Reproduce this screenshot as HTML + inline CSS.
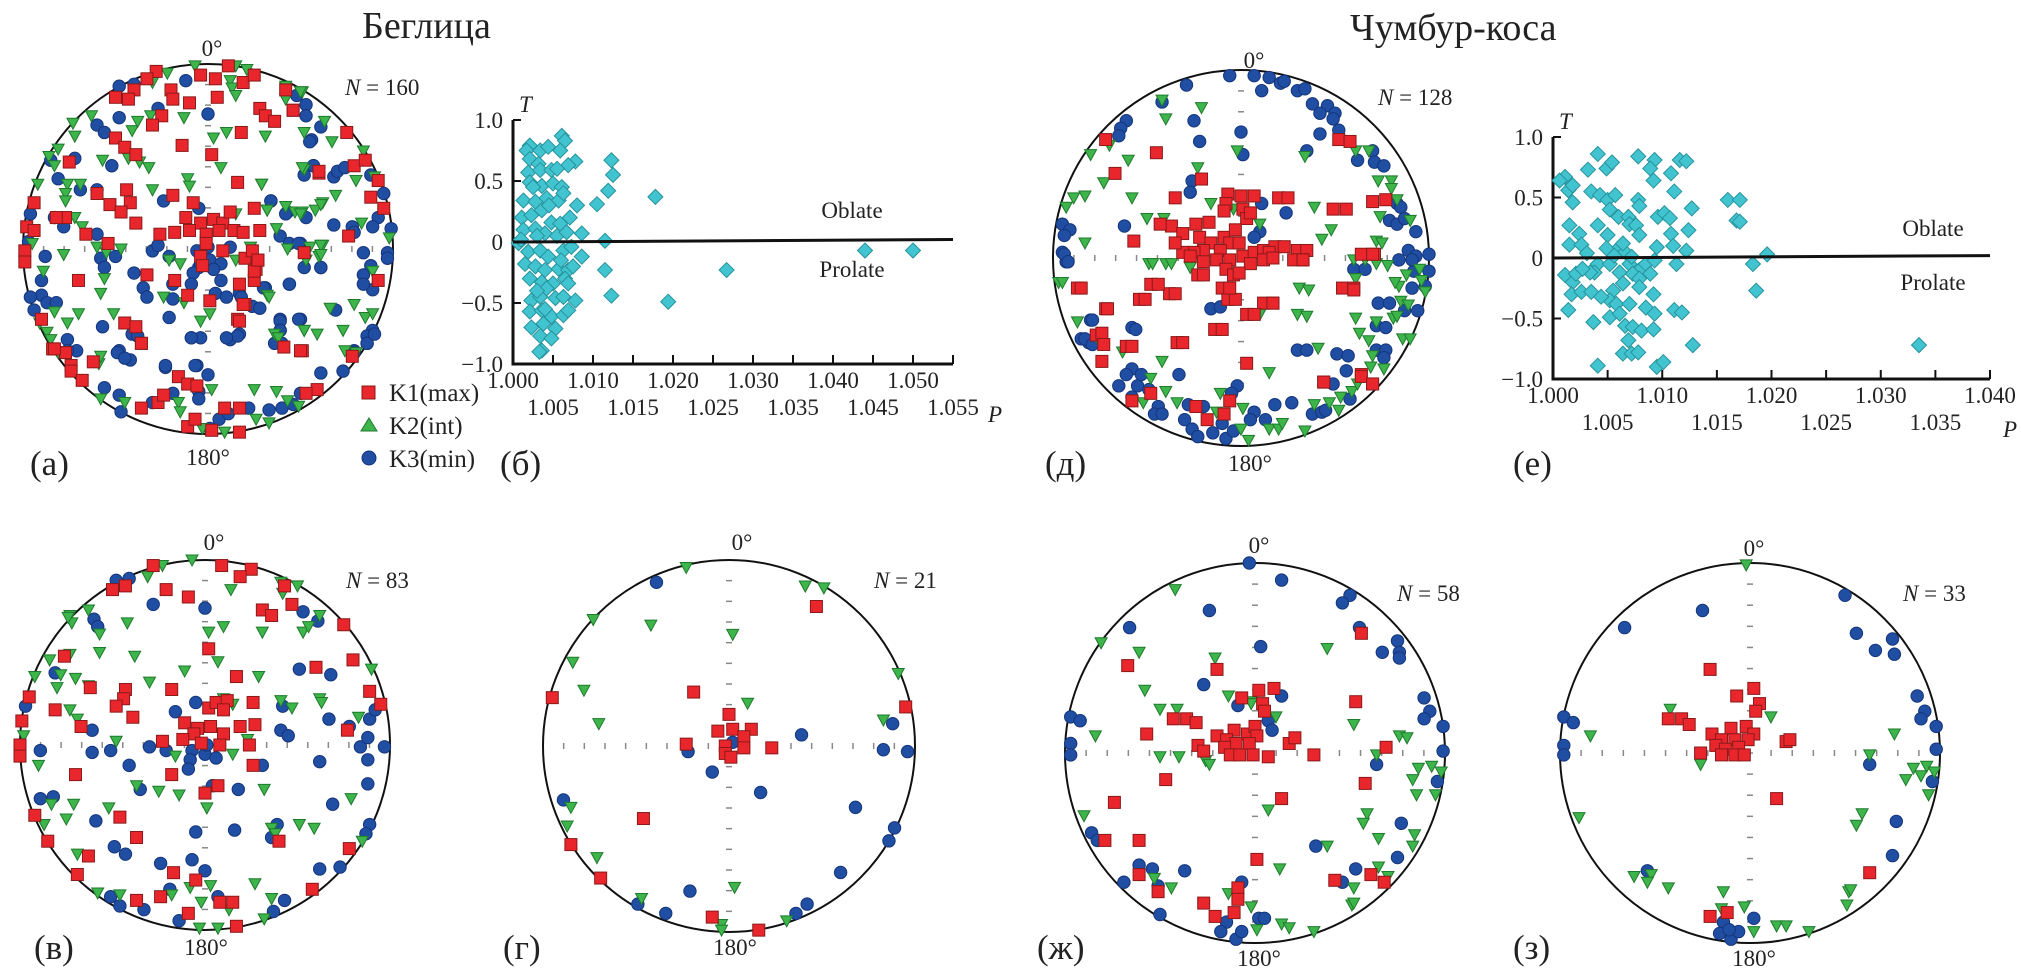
<!DOCTYPE html>
<html><head><meta charset="utf-8">
<style>
html,body{margin:0;padding:0;background:#fff;}
svg{display:block;font-family:"Liberation Serif","Noto Serif CJK SC",serif;}
.t{font-family:"Liberation Serif","Noto Serif CJK SC",serif;font-size:23px;fill:#222;}
.pl{font-family:"Liberation Serif","Noto Serif CJK SC",serif;font-size:35px;fill:#222;}
.ti{font-family:"Liberation Serif","Noto Serif CJK SC",serif;font-size:38px;fill:#222;}
.lg{font-family:"Liberation Serif","Noto Serif CJK SC",serif;font-size:25px;fill:#222;}
</style></head>
<body>
<svg id="fig" width="2021" height="979" viewBox="0 0 2021 979" xmlns="http://www.w3.org/2000/svg" font-family="Liberation Serif, serif">
<text class="ti" x="362" y="38">Беглица</text>
<text class="ti" x="1350" y="40">Чумбур-коса</text>
<g id="nets"></g>
<g id="plotB"></g>
<g id="plotE"></g>
<text class="t" x="212" y="56" text-anchor="middle">0°</text>
<text class="t" x="208" y="465" text-anchor="middle">180°</text>
<text class="t" x="345" y="95"><tspan font-style="italic">N</tspan> = 160</text>
<text class="pl" x="30" y="475">(а)</text>
<text class="pl" x="500" y="475">(б)</text>
<text class="t" x="1254" y="68" text-anchor="middle">0°</text>
<text class="t" x="1250" y="471" text-anchor="middle">180°</text>
<text class="t" x="1378" y="105"><tspan font-style="italic">N</tspan> = 128</text>
<text class="pl" x="1045" y="475">(д)</text>
<text class="pl" x="1513" y="475">(е)</text>
<text class="t" x="214" y="550" text-anchor="middle">0°</text>
<text class="t" x="206" y="955" text-anchor="middle">180°</text>
<text class="t" x="346" y="588"><tspan font-style="italic">N</tspan> = 83</text>
<text class="pl" x="34" y="959">(в)</text>
<text class="t" x="742" y="550" text-anchor="middle">0°</text>
<text class="t" x="735" y="955" text-anchor="middle">180°</text>
<text class="t" x="874" y="588"><tspan font-style="italic">N</tspan> = 21</text>
<text class="pl" x="503" y="959">(г)</text>
<text class="t" x="1259" y="553" text-anchor="middle">0°</text>
<text class="t" x="1259" y="966" text-anchor="middle">180°</text>
<text class="t" x="1397" y="601"><tspan font-style="italic">N</tspan> = 58</text>
<text class="pl" x="1037" y="959">(ж)</text>
<text class="t" x="1754" y="556" text-anchor="middle">0°</text>
<text class="t" x="1754" y="966" text-anchor="middle">180°</text>
<text class="t" x="1903" y="601"><tspan font-style="italic">N</tspan> = 33</text>
<text class="pl" x="1513" y="959">(з)</text>
<g>
<rect x="362" y="386" width="13" height="13" fill="#e8262c" stroke="#8b1a1a" stroke-width="1"/>
<text class="lg" x="389" y="401">K1(max)</text>
<polygon points="369,418 377,431 361,431" fill="#3db54a" stroke="#1f7a2e" stroke-width="1"/>
<text class="lg" x="389" y="434">K2(int)</text>
<circle cx="369" cy="458" r="7" fill="#1f4ea3" stroke="#16357a" stroke-width="1"/>
<text class="lg" x="389" y="467">K3(min)</text>
</g>
</svg>
<script>
const aK1 = [[-.28,.96],[-.33,.92],[-.04,.94],[.04,.92],[.11,.99],[.19,.90],[.25,.94],[-.40,.86],[-.50,.82],[-.43,.81],[-.20,.86],[-.19,.81],[-.10,.79],[.05,.82],[.28,.76],[.31,.72],[.36,.69],[.46,.75],[-.25,.72],[-.30,.67],[.18,.63],[-.14,.56],[-.50,.60],[-.45,.55],[-.39,.51],[.02,.51],[-.75,.47],[.60,.41],[.16,.36],[-.94,.25],[-.60,.30],[-.44,.32],[-.42,.25],[-.53,.24],[-.47,.20],[-.39,.14],[-.19,.29],[-.08,.25],[.25,.22],[-.12,.17],[-.04,.14],[.03,.16],[.08,.14],[.12,.20],[.06,.10],[-.01,.08],[-.10,.10],[-.18,.09],[-.26,.08],[.14,.10],[.19,.09],[.28,.10],[-.01,.03],[.08,-.01],[-.04,-.04],[-.03,-.09],[.20,-.05],[.27,-.06],[.24,-.01],[.26,-.11],[.25,-.17],[-.98,.12],[-.94,.10],[-.77,.17],[-.82,.17],[-.66,.08],[-.54,.03],[-.99,-.01],[-.99,-.07],[-.70,-.17],[-.33,-.14],[-.18,-.17],[.17,-.19],[-.11,-.25],[.01,-.28],[.20,-.30],[.16,-.38],[-.45,-.40],[-.39,-.42],[-.36,-.51],[.51,-.55],[.41,-.53],[-.84,-.54],[-.77,-.56],[-.74,-.63],[-.62,-.61],[-.90,-.38],[.42,.86],[.46,.75],[.75,.63],[.79,.45],[.85,.48],[.60,.42],[.88,.28],[.95,.22],[.92,.37],[.76,.07],[.52,-.02],[.92,-.17],[.25,-.12],[.27,-.06],[.19,-.30],[.17,-.39],[.78,-.58],[-.36,-.51],[.50,-.55],[-.83,-.54],[-.74,-.66],[-.68,-.71],[-.16,-.69],[-.11,-.73],[-.06,-.74],[-.36,-.86],[-.27,-.83],[-.24,-.79],[-.11,-.96],[-.07,-.92],[.02,-.98],[.09,-.86],[.17,-.86],[.17,-.99],[.59,-.76],[.53,-.78]];
const aK2 = [[-.07,.99],[-.22,.95],[-.30,.90],[.12,.91],[.15,.99],[.21,.97],[.13,.87],[.15,.83],[.42,.87],[.42,.81],[.51,.85],[-.63,.72],[-.73,.68],[-.72,.61],[-.81,.54],[-.86,.50],[-.83,.45],[-.92,.35],[-.76,.35],[-.69,.35],[-.77,.30],[-.77,.26],[-.72,.17],[-.68,.12],[-.95,.03],[-.78,-.03],[-.60,.01],[-.55,-.02],[-.47,0],[-.57,.48],[-.43,.49],[-.37,.47],[-.32,.44],[-.41,.64],[-.38,.69],[-.31,.72],[-.13,.71],[.03,.60],[.10,.63],[.31,.61],[.07,.44],[-.11,.38],[-.10,.34],[-.30,.32],[.29,.35],[.15,.19],[.32,.21],[.37,.11],[.42,.23],[.47,.20],[.51,.20],[.58,.21],[.62,.25],[.52,.43],[.62,.02],[.43,0],[.53,-.06],[.60,-.04],[.23,.01],[.15,-.06],[-.15,-.08],[-.21,-.06],[-.56,-.16],[-.89,-.12],[-.58,-.24],[-.24,-.26],[-.13,-.29],[.01,-.35],[-.04,-.39],[-.51,-.35],[-.70,-.35],[-.83,-.34],[-.76,-.40],[-.91,-.40],[-.87,-.45],[-.85,-.49],[.36,-.46],[.38,-.48],[.52,-.44],[.59,-.46],[.32,-.25],[.42,.88],[.50,.85],[.63,.69],[.52,.63],[.67,.58],[.84,.53],[.51,.44],[.80,.37],[.90,.39],[.29,.35],[.69,.29],[.32,.21],[.50,.19],[.61,.24],[.83,.14],[.98,.06],[.55,.01],[.61,.02],[.61,-.03],[.89,-.12],[.33,-.26],[.79,-.30],[.66,-.32],[.85,-.37],[.89,-.35],[.52,-.44],[.73,-.44],[.74,-.55],[-.81,-.56],[-.59,-.62],[-.58,-.81],[-.45,-.83],[-.16,-.83],[-.15,-.88],[-.03,-.97],[.02,-.76],[.09,-.99],[.26,-.92],[.33,-.94],[.25,-.76],[.37,-.77],[.43,-.82],[.49,-.85],[-.58,-.58],[.80,-.56]];
const aK3 = [[-.12,.91],[-.40,.89],[-.48,.88],[0,.73],[-.27,.76],[-.48,.71],[-.60,.67],[-.56,.63],[-.72,.49],[-.85,.48],[-.52,.45],[-.81,.38],[-.69,.32],[-.60,.32],[-.24,.26],[-.05,.22],[-.83,.17],[-.78,.12],[-.96,.19],[-.97,.04],[-.60,.08],[-.88,-.04],[-.58,-.05],[-.56,-.10],[-.50,-.04],[-.30,-.01],[-.27,.02],[-.21,-.04],[-.06,-.01],[0,.01],[.01,-.06],[.07,-.08],[.12,.01],[-.05,-.10],[-.08,-.13],[-.09,-.19],[-.04,-.08],[.03,-.11],[-.19,-.19],[-.40,-.13],[-.35,-.21],[-.33,-.26],[-.19,-.27],[.07,-.17],[.04,-.24],[.10,-.26],[.17,-.24],[.31,-.21],[.44,-.19],[.24,-.31],[-.90,-.17],[-.90,-.25],[-.96,-.26],[-.94,-.33],[-.87,-.29],[-.82,-.29],[-.57,-.42],[-.41,-.46],[-.21,-.37],[-.09,-.48],[-.04,-.48],[.12,-.49],[.17,-.46],[.39,-.38],[.39,-.44],[.50,-.38],[.40,-.51],[-.76,-.49],[-.71,-.55],[-.48,-.55],[-.42,-.60],[-.23,-.64],[-.06,-.63],[.34,.26],[.43,.20],[.53,.17],[.50,.03],[.39,.07],[.52,-.10],[.61,-.10],[.57,.45],[.52,.40],[.48,.83],[.53,.78],[.53,.72],[.61,.66],[.56,.59],[.55,.58],[.57,.45],[.68,.39],[.70,.42],[.74,.44],[.88,.40],[.95,.30],[.34,.26],[.42,.19],[.99,.11],[.92,.17],[.89,.12],[.68,.13],[.78,.12],[.79,.09],[.84,-.02],[.97,-.02],[.97,-.05],[.44,.03],[.49,.03],[.61,-.10],[.88,-.09],[.84,-.14],[.89,-.22],[.84,-.19],[.44,-.19],[.30,-.21],[.18,-.26],[.28,-.32],[.69,-.33],[.39,-.39],[.39,-.44],[.49,-.38],[.36,-.51],[.89,-.44],[.86,-.47],[.86,-.51],[.79,-.55],[.16,-.47],[-.38,-.47],[-.09,-.48],[.10,-.48],[-.49,-.56],[-.45,-.59],[-.76,-.55],[-.23,-.63],[-.07,-.63],[0,-.68],[-.56,-.75],[-.48,-.79],[-.47,-.88],[-.19,-.78],[-.05,-.77],[-.05,-.81],[.06,-.92],[.11,-.89],[.22,-.86],[.33,-.87],[.40,-.86],[.46,-.84],[.50,-.78],[.61,-.67],[.73,-.66],[.79,-.56],[.86,-.51],[.90,-.46],[.01,-.97],[-.30,-.83]];

const dK1 = [[-.07,.34],[-.08,.29],[-.09,.25],[0,.33],[.07,.33],[.20,.32],[.01,.26],[.03,.21],[.05,.24],[-.17,.19],[-.24,.18],[-.37,.17],[-.43,.18],[-.31,.13],[-.22,.11],[-.16,.08],[-.09,.11],[-.06,.08],[-.01,.08],[-.11,.04],[-.20,.04],[-.25,.03],[-.31,.03],[-.35,.08],[-.27,.01],[-.20,-.02],[-.13,-.01],[-.06,-.01],[.01,.01],[.07,.03],[.12,.04],[.18,.06],[.15,.03],[-.03,.15],[.05,-.03],[.12,-.01],[-.23,-.09],[-.08,-.06],[-.04,-.09],[.49,.26],[.70,.30],[.30,.04],[.28,-.01],[.64,.02],[.52,.63],[-.57,.09],[-.87,-.16],[-.48,-.14],[-.38,-.19],[-.54,-.22],[-.10,-.16],[-.07,-.22],[.12,-.24],[.54,-.16],[.03,-.30],[-.72,-.27],[-.14,-.38],[-.61,-.47],[-.77,-.41],[-.34,-.45],[-.72,.63],[-.45,.56],[-.67,.45],[-.21,.42],[-.35,.32],[.58,.62],[.25,.32],[.77,.31],[.56,.26],[.23,.06],[.35,.04],[.17,0],[.33,-.01],[.71,.02],[.60,-.16],[.17,-.24],[.44,-.66],[.64,-.62],[.70,-.67],[-.85,-.16],[-.44,-.14],[-.35,-.19],[-.51,-.22],[-.71,-.27],[-.74,-.40],[-.73,-.46],[-.58,-.47],[-.74,-.55],[-.31,-.45],[-.10,-.38],[-.03,-.22],[-.06,-.16],[.07,-.30],[.17,-.24],[.03,-.56],[.60,-.17],[.70,.02],[.33,-.01],[.44,-.66],[.64,-.63],[.70,-.67],[-.06,-.76],[-.09,-.83],[-.18,-.86],[-.24,-.79],[-.48,-.72],[-.58,-.76],[-.20,-.09],[-.01,-.08]];
const dK2 = [[-.42,.84],[-.21,.80],[-.40,.74],[-.80,.55],[-.70,.60],[-.60,.52],[-.73,.40],[-.83,.33],[-.89,.32],[-.93,.27],[-.58,.32],[-.50,.21],[-.41,.21],[-.83,.08],[-.49,-.03],[-.40,-.03],[-.97,-.13],[-.27,-.05],[-.23,.48],[-.02,.57],[-.16,.29],[-.04,.26],[.10,.18],[.34,.54],[.39,.27],[.48,.15],[.43,.10],[.61,.57],[.68,.57],[.73,.41],[.80,.41],[.80,.37],[.83,.31],[.74,.22],[.90,.20],[.72,.09],[.75,.08],[.60,-.01],[.72,-.03],[.31,-.16],[.30,-.30],[.61,-.11],[-.95,-.13],[-.87,-.34],[-.63,-.50],[-.77,-.42],[-.47,-.03],[-.37,-.03],[-.42,-.55],[-.40,-.71],[-.52,-.77],[-.34,-.77],[-.48,-.64],[-.11,-.72],[-.13,-.82],[.01,-.80],[.04,-.97],[0,-.91],[.15,-.91],[.20,-.91],[.22,-.88],[.34,-.92],[.15,-.61],[.10,-.30],[.35,-.31],[.36,-.17],[.41,-.48],[.39,-.78],[.47,-.77],[.53,-.74],[.59,-.71],[.62,-.67],[.63,-.40],[.68,-.44],[.72,-.34],[.61,-.32],[.81,-.32],[.83,-.31],[.86,-.43],[.90,-.43],[.70,-.52],[.76,-.59],[.69,-.58],[.84,-.15],[.82,-.13],[.88,-.09],[.85,-.23],[.89,-.25],[.96,-.12],[.95,-.06],[.98,-.18],[.78,-.04],[.66,-.01],[.52,-.81]];
const dK3 = [[-.29,.92],[-.06,.97],[.07,.97],[.15,.96],[.21,.93],[.23,.94],[.30,.89],[.34,.90],[.11,.89],[.38,.82],[.46,.81],[.42,.77],[.50,.77],[.49,.74],[.52,.68],[.42,.66],[-.25,.73],[0,.67],[-.22,.62],[.01,.55],[-.42,.83],[-.61,.73],[-.64,.69],[-.65,.65],[-.26,.41],[-.27,.35],[.35,.57],[.62,.52],[.70,.57],[.71,.51],[.76,.49],[.83,.29],[.85,.27],[.79,.20],[.83,.18],[.87,.21],[.93,.14],[.11,.29],[.24,.24],[.10,.14],[.07,.11],[-.62,.17],[-.95,.18],[-.91,.15],[-.94,.12],[-.95,.03],[-.93,-.02],[.89,.04],[.93,.01],[.84,-.01],[.92,-.07],[.60,-.06],[.91,-.16],[.87,-.28],[.73,-.24],[.72,-.36],[-.16,-.27],[-.80,-.33],[-.58,-.37],[-.85,-.43],[-.81,-.45],[.30,-.49],[.51,-.51],[.72,-.49],[-.94,.02],[-.92,-.02],[-.79,-.33],[-.83,-.43],[-.79,-.46],[-.56,-.38],[-.58,-.59],[-.61,-.62],[-.65,-.68],[-.55,-.68],[-.58,-.74],[-.53,-.62],[-.49,-.70],[-.44,-.79],[-.46,-.83],[-.42,-.83],[-.33,-.62],[-.30,-.86],[-.26,-.91],[-.23,-.95],[-.15,-.93],[-.10,-.88],[-.08,-.96],[-.04,-.92],[-.02,-.68],[-.05,-.72],[-.11,-.26],[-.28,-.78],[-.20,-.79],[.07,-.82],[.05,-.86],[.13,-.86],[.18,-.78],[.27,-.77],[.35,-.49],[.38,-.83],[.43,-.82],[.45,-.81],[.49,-.67],[.57,-.52],[.56,-.60],[.58,-.75],[.77,-.49],[.77,-.37],[.79,-.24],[.94,-.28],[.98,-.15],[.91,-.01],[.66,-.06],[1.0,-.07],[1.0,.02],[.76,-.53]];

const vK1 = [[-.28,.97],[.09,.97],[.25,.95],[.19,.91],[-.50,.84],[-.43,.86],[-.21,.84],[-.09,.80],[.31,.73],[.36,.70],[.47,.76],[.43,.86],[.75,.65],[.02,.52],[-.76,.48],[.80,.46],[.60,.42],[.17,.37],[-.62,.31],[-.43,.30],[-.44,.25],[-.18,.30],[-.48,.21],[-.81,.19],[-.39,.15],[.89,.29],[.95,.22],[-.95,.26],[-.99,.13],[-.67,.10],[-.11,.12],[.02,.20],[.06,.23],[.12,.24],[.26,.23],[.10,.19],[.19,.10],[.27,.11],[.03,.10],[-.04,.09],[.10,.06],[-.06,.06],[.08,0],[-.02,.01],[.24,0],[-.12,.03],[-.23,.02],[-1.0,0],[-1.0,-.06],[.77,.08],[-.70,-.16],[-.18,-.16],[.26,-.11],[.07,-.22],[0,-.26],[-.46,-.39],[-.92,-.38],[-.85,-.52],[-.37,-.50],[.40,-.52],[.78,-.56],[-.63,-.60],[-.69,-.70],[-.17,-.69],[-.05,-.73],[-.37,-.84],[-.24,-.82],[.08,-.85],[.15,-.85],[-.09,-.91],[.17,-.98],[.58,-.78]];
const vK2 = [[-.07,1.0],[-.23,.97],[-.31,.91],[.14,.84],[.41,.88],[.50,.86],[.42,.82],[-.63,.73],[-.73,.70],[-.72,.66],[-.57,.60],[-.42,.66],[.02,.61],[.10,.64],[.31,.61],[.53,.61],[.56,.64],[.62,.70],[-.57,.50],[-.38,.48],[-.73,.49],[-.84,.46],[.07,.45],[.90,.41],[-.11,.40],[.29,.37],[-.92,.37],[-.78,.38],[-.70,.36],[-.80,.31],[-.30,.34],[.10,.25],[.41,.24],[.47,.20],[.62,.25],[.63,.23],[.83,.15],[-.73,.19],[-.69,.14],[-.48,.02],[.15,.22],[.23,.03],[-.98,.05],[-.90,-.11],[-.16,-.06],[.15,-.05],[-.37,-.22],[-.25,-.25],[-.14,-.27],[.01,-.34],[.32,-.24],[.79,-.29],[-.71,-.32],[-.83,-.32],[-.75,-.40],[-.52,-.34],[-.87,-.43],[.36,-.45],[.51,-.43],[.59,-.45],[.38,-.48],[-.69,-.59],[-.58,-.80],[-.46,-.81],[-.18,-.81],[-.08,-.77],[.03,-.76],[.27,-.75],[.36,-.83],[-.02,-.85],[.13,-.89],[.32,-.94],[-.03,-.99],[.07,-.99],[.85,-.52],[-.74,.69],[-.63,.32]];
const vK3 = [[-.48,.89],[-.41,.90],[-.28,.76],[0,.74],[.53,.72],[.61,.67],[-.60,.68],[-.58,.64],[.51,.41],[.68,.38],[-.81,.39],[-.97,.21],[-.16,.18],[-.05,.23],[.42,.21],[.67,.14],[.78,.10],[.89,.14],[.92,.19],[-.61,.08],[.41,.08],[.45,.05],[-.89,-.03],[-.61,-.04],[-.51,-.03],[-.30,-.01],[-.21,-.03],[-.07,-.03],[0,-.05],[.01,0],[.06,-.07],[-.08,-.08],[-.09,-.13],[-.41,-.11],[.31,-.11],[.62,-.09],[.84,-.01],[.88,.04],[.97,-.01],[.88,-.08],[.88,-.21],[.04,-.22],[-.35,-.24],[.18,-.24],[-.89,-.29],[-.82,-.28],[.69,-.32],[-.59,-.41],[-.05,-.47],[.16,-.46],[.39,-.43],[.36,-.50],[.89,-.43],[.87,-.48],[-.49,-.55],[-.43,-.59],[-.24,-.64],[-.07,-.62],[0,-.68],[-.19,-.78],[-.51,-.82],[-.46,-.87],[-.33,-.89],[-.14,-.95],[.07,-.82],[.43,-.84],[.37,-.90],[.62,-.67],[.73,-.66]];

const gK1 = [[.47,.75],[-.19,.29],[-.95,.26],[.95,.21],[0,.17],[-.06,.08],[.02,.09],[.12,.09],[.08,.05],[-.23,.01],[-.02,0],[.08,-.01],[.23,-.01],[-.02,-.04],[.01,-.06],[-.46,-.39],[-.85,-.53],[-.69,-.71],[-.09,-.92],[.16,-.99]];
const gK2 = [[-.23,.96],[.41,.86],[.51,.85],[-.73,.68],[-.42,.65],[.02,.60],[-.84,.45],[-.78,.30],[.91,.39],[.10,.23],[-.70,.12],[.83,.14],[-.85,-.33],[-.87,-.43],[-.71,-.60],[-.47,-.82],[.03,-.76],[-.04,-.96],[-.04,-.99],[.31,-.94]];
const gK3 = [[-.39,.88],[.88,.12],[.83,-.02],[.96,-.03],[.39,.06],[.02,.02],[-.22,-.03],[-.09,-.14],[.17,-.25],[.68,-.33],[-.89,-.29],[.89,-.44],[.86,-.51],[.60,-.68],[-.21,-.78],[-.49,-.85],[-.34,-.90],[.42,-.85],[.36,-.90]];

const zhK1 = [[-.67,.46],[-.20,.44],[.02,.33],[.10,.34],[-.07,.29],[.04,.26],[.05,.22],[.53,.27],[-.43,.18],[-.36,.18],[-.31,.16],[-.57,.10],[-.20,.09],[-.11,.12],[-.04,.10],[0,.14],[.01,.09],[-.15,.07],[-.10,.05],[-.03,.05],[-.16,.03],[-.30,.04],[-.27,.01],[-.13,-.01],[-.08,-.01],[-.01,-.01],[.07,-.02],[.18,.05],[.21,.08],[.31,-.01],[.69,.03],[.56,.63],[-.47,-.14],[.58,-.16],[.14,-.24],[-.74,-.26],[-.79,-.46],[-.61,-.46],[.01,-.56],[-.61,-.64],[-.51,-.73],[.42,-.67],[.61,-.64],[.68,-.68],[-.27,-.79],[-.09,-.71],[-.09,-.77],[-.11,-.84],[-.21,-.86]];
const zhK2 = [[-.42,.86],[-.81,.58],[-.61,.53],[-.21,.50],[.38,.55],[-.58,.33],[-.14,.30],[-.02,.27],[-.50,.23],[-.41,.23],[.11,.19],[.52,.15],[-.84,.09],[-.50,-.02],[-.40,-.02],[-.26,-.04],[-.24,-.06],[.64,-.01],[.76,.09],[.80,.08],[.86,-.08],[.93,-.07],[.98,-.10],[.83,-.14],[.85,-.22],[.95,-.22],[-.90,-.33],[.07,-.30],[.59,-.32],[.57,-.37],[.84,-.43],[.83,-.49],[.65,-.45],[.38,-.49],[-.61,-.64],[-.53,-.66],[-.44,-.71],[.13,-.61],[-.14,-.74],[-.02,-.81],[.01,-.93],[.14,-.90],[.18,-.92],[.31,-.94],[.65,-.60],[.70,-.65],[.52,-.71],[.51,-.80],[.52,-.79],[-.02,.26]];
const zhK3 = [[-.03,1.0],[.14,.91],[-.24,.75],[-.66,.66],[.03,.56],[.50,.83],[.46,.79],[.55,.66],[.75,.59],[.67,.53],[.76,.53],[.76,.50],[-.27,.36],[-.09,.25],[.14,.30],[.07,.17],[.09,.12],[.89,.29],[.92,.22],[.89,.18],[.99,.14],[-.97,.19],[-.92,.17],[-.97,.05],[-.97,-.01],[.99,.01],[.64,-.06],[.96,-.15],[.77,-.37],[.75,-.55],[-.86,-.42],[-.83,-.46],[.32,-.49],[.53,-.61],[.46,-.68],[-.61,-.59],[-.54,-.61],[-.51,-.70],[-.37,-.62],[-.69,-.68],[-.07,-.68],[-.50,-.85],[.02,-.87],[.05,-.87],[-.15,-.89],[-.18,-.94],[-.10,-.98],[-.07,-.94]];

const zK1 = [[-.21,.44],[.02,.34],[-.07,.30],[.05,.26],[.03,.22],[-.43,.18],[-.36,.18],[-.32,.15],[-.10,.13],[-.02,.14],[.02,.10],[-.20,.10],[-.15,.07],[-.08,.07],[-.01,.07],[-.18,.04],[-.13,.02],[-.06,.03],[-.26,0],[-.15,-.01],[-.08,-.01],[-.03,-.01],[.19,.06],[.21,.07],[.14,-.24],[.63,-.63],[-.21,-.86],[-.12,-.84]];
const zK2 = [[-.02,.99],[-.42,.23],[.11,.19],[-.84,.09],[.76,.10],[.63,-.01],[-.26,-.06],[.86,-.08],[.93,-.07],[.82,-.14],[.90,-.12],[.97,-.10],[.94,-.22],[-.90,-.34],[.59,-.32],[.56,-.38],[-.61,-.65],[-.52,-.64],[-.54,-.68],[-.43,-.71],[-.14,-.73],[.52,-.73],[.53,-.72],[.51,-.80],[-.15,-.82],[-.03,-.81],[.02,-.94],[.14,-.91],[.19,-.91],[.31,-.94]];
const zK3 = [[.50,.83],[-.25,.75],[-.66,.66],[.56,.63],[.66,.54],[.75,.60],[.76,.52],[.88,.30],[.92,.22],[.90,.18],[.98,.14],[-.98,.19],[-.93,.16],[-.98,.04],[-.98,-.01],[.98,.02],[.63,-.06],[.96,-.15],[.77,-.36],[.75,-.54],[-.54,-.62],[.02,-.87],[-.14,-.89],[-.16,-.95],[-.10,-.98],[-.06,-.94],[-.11,-.93]];

const bP = [1.0021,1.0017,1.0034,1.0044,1.0061,1.0065,1.0059,1.0078,1.0069,1.0021,1.0032,1.0019,1.0034,1.0048,1.0021,1.0036,1.0050,1.0061,1.0013,1.0028,1.0042,1.0057,1.0063,1.0011,1.0023,1.0036,1.0048,1.0059,1.0071,1.0013,1.0028,1.0040,1.0055,1.0067,1.0086,1.0115,1.0105,1.0119,1.0125,1.0123,1.0178,1.0007,1.0019,1.0034,1.0044,1.0063,1.0073,1.0086,1.0015,1.0028,1.0040,1.0057,1.0069,1.0065,1.0021,1.0036,1.0050,1.0069,1.0115,1.0023,1.0034,1.0042,1.0053,1.0063,1.0078,1.0123,1.0194,1.0267,1.0021,1.0036,1.0048,1.0063,1.0069,1.0023,1.0038,1.0053,1.0034,1.0048,1.0036,1.0033,1.044,1.050,1.0030,1.0045,1.0025,1.0055,1.0010,1.0060,1.0030,1.0075,1.0040,1.0080];
const bT = [.79,.75,.75,.78,.87,.83,.75,.66,.63,.68,.64,.57,.59,.59,.49,.46,.48,.45,.34,.33,.36,.34,.40,.20,.22,.26,.16,.15,.20,.10,.11,.07,.05,.08,.07,.01,.31,.42,.55,.67,.37,-.01,-.08,-.07,-.12,-.07,-.04,-.12,-.18,-.20,-.23,-.22,-.23,-.30,-.30,-.33,-.34,-.34,-.23,-.48,-.45,-.38,-.46,-.45,-.48,-.44,-.49,-.23,-.57,-.56,-.61,-.60,-.56,-.70,-.67,-.71,-.77,-.79,-.89,-.90,-.07,-.07,.05,.30,.45,.60,.02,-.15,-.40,-.20,-.55,.30];
const ePv = [1.0011,1.0014,1.0018,1.0018,1.0015,1.0015,1.0024,1.0026,1.0011,1.0018,1.0017,1.0026,1.0035,1.0014,1.0037,1.0041,1.0032,1.0035,1.0043,1.0049,1.0054,1.0050,1.0057,1.0052,1.0041,1.0050,1.0060,1.0069,1.0070,1.0076,1.0078,1.0093,1.0092,1.0108,1.0116,1.0111,1.0127,1.0078,1.0079,1.0079,1.0096,1.0102,1.0107,1.0108,1.0095,1.0110,1.0124,1.0122,1.0113,1.0049,1.0041,1.0031,1.0061,1.0066,1.0070,1.0079,1.0085,1.0093,1.0052,1.0038,1.0061,1.0073,1.0064,1.0079,1.0089,1.0092,1.0055,1.0052,1.0058,1.0070,1.0079,1.0085,1.0093,1.0052,1.0061,1.0066,1.0073,1.0081,1.0092,1.0069,1.0064,1.0072,1.0078,1.0041,1.0095,1.0101,1.0128,1.0111,1.0118,1.0160,1.0171,1.0168,1.0171,1.0183,1.0196,1.0186,1.0335,1.0122,1.0089,1.0064,1.0072,1.0056,1.0034,1.0021,1.0027,1.0044,1.0006];
const eTv = [.67,.56,.60,.46,.27,.11,.20,.11,-.14,-.20,-.30,-.28,-.28,-.43,-.53,.86,.73,.55,.52,.74,.79,.48,.52,.40,.27,.19,.34,.34,.28,.27,.84,.81,.64,.70,.81,.55,.41,.48,.43,.19,.34,.37,.33,.20,.09,.10,.23,.06,-.05,.08,-.05,.04,.09,.05,-.05,-.10,-.05,-.02,-.05,-.12,-.12,-.13,-.21,-.17,-.13,-.30,-.27,-.35,-.38,-.38,-.24,-.41,-.46,-.49,-.46,-.56,-.57,-.60,-.59,-.68,-.79,-.79,-.78,-.89,-.90,-.86,-.72,-.43,-.45,.48,.48,.31,.30,-.05,.03,-.27,-.72,.80,.74,.12,.01,.02,-.12,-.13,-.09,-.32,.64];
const bTicksMajor = ["1.000","1.010","1.020","1.030","1.040","1.050"];
const bTicksMinor = ["1.005","1.015","1.025","1.035","1.045","1.055"];
const eTicksMajor = ["1.000","1.010","1.020","1.030","1.040"];
const eTicksMinor = ["1.005","1.015","1.025","1.035"];
const yTicks = [1.0, 0.5, 0, -0.5, -1.0];
const yTickLabels = ["1.0","0.5","0","\u22120.5","\u22121.0"];

const NS = 'http://www.w3.org/2000/svg';
function mk(tag, attrs, parent){
  const el = document.createElementNS(NS, tag);
  for (const k in attrs) el.setAttribute(k, attrs[k]);
  parent.appendChild(el);
  return el;
}

const netsG = document.getElementById('nets');
function drawNet(key, cx, cy, r, k1, k2, k3){
  const g = mk('g', {}, netsG);
  
  
  const sx = e => cx + e * r;
  const sy = n => cy - n * r;
  const c = mk('circle', {cx: cx, cy: cy, r: r, fill: 'none', stroke: '#111', 'stroke-width': 2}, g);
  
  
  for (let i = -8; i <= 8; i++) {
    const d = i * r / 9;
    const th = mk('line', {x1: cx + d, y1: cy - 3, x2: cx + d, y2: cy + 3, stroke: '#888', 'stroke-width': 1.5}, g);
    
    
    const tv = mk('line', {x1: cx - 3, y1: cy + d, x2: cx + 3, y2: cy + d, stroke: '#888', 'stroke-width': 1.5}, g);
    
    
  }
  k3.forEach(p => {
    const m = mk('circle', {cx: sx(p[0]), cy: sy(p[1]), r: 6.2, fill: '#1f4ea3', stroke: '#16357a', 'stroke-width': 1}, g);
    
    
  });
  k2.forEach(p => {
    const x = sx(p[0]), y = sy(p[1]);
    const m = mk('polygon', {points: (x-6)+','+(y-5)+' '+(x+6)+','+(y-5)+' '+x+','+(y+6)}, g);
    m.setAttribute('fill', '#3db54a');
    m.setAttribute('stroke', '#1f7a2e');
    
    
  });
  k1.forEach(p => {
    const m = mk('rect', {x: sx(p[0]) - 6, y: sy(p[1]) - 6, width: 12, height: 12, fill: '#e8262c', stroke: '#8b1a1a', 'stroke-width': 1}, g);
    
    
  });
}
drawNet('a', 208, 249, 185, aK1, aK2, aK3);
drawNet('d', 1241, 258, 188, dK1, dK2, dK3);
drawNet('v', 205, 745, 185, vK1, vK2, vK3);
drawNet('g', 729, 746, 186, gK1, gK2, gK3);
drawNet('zh', 1255, 753, 190, zhK1, zhK2, zhK3);
drawNet('z', 1750, 753, 190, zK1, zK2, zK3);

function drawPlot(gid, key, x0, pxPerUnit, pMax, y0, pxPerT, P, T, majors, minors, lineEndT, lblX, oblY, proY, pX){
  const g = document.getElementById(gid);
  const sx = p => x0 + (p - 1) * pxPerUnit;
  const sy = t => y0 - t * pxPerT;
  const xEnd = sx(pMax);
  const ax = mk('path', {d: 'M' + x0 + ',' + sy(1) + ' L' + x0 + ',' + sy(-1) + ' L' + xEnd + ',' + sy(-1), fill: 'none', stroke: '#111', 'stroke-width': 3}, g);
  
  
  yTicks.forEach((t, i) => {
    const tk = mk('line', {x1: x0, y1: sy(t), x2: x0 + 8, y2: sy(t), stroke: '#111', 'stroke-width': 2}, g);
    
    
    const tl = mk('text', {x: x0 - 10, y: sy(t) + 8, 'text-anchor': 'end', class: 't'}, g);
    tl.textContent = yTickLabels[i];
    
    
  });
  majors.forEach(s => {
    const x = sx(parseFloat(s));
    const tk = mk('line', {x1: x, y1: sy(-1), x2: x, y2: sy(-1) - 9, stroke: '#111', 'stroke-width': 2}, g);
    
    
    const tl = mk('text', {x: x, y: sy(-1) + 24, 'text-anchor': 'middle', class: 't'}, g);
    tl.textContent = s;
    
    
  });
  minors.forEach(s => {
    const x = sx(parseFloat(s));
    const tk = mk('line', {x1: x, y1: sy(-1), x2: x, y2: sy(-1) - 9, stroke: '#111', 'stroke-width': 2}, g);
    
    
    const tl = mk('text', {x: x, y: sy(-1) + 51, 'text-anchor': 'middle', class: 't'}, g);
    tl.textContent = s;
    
    
  });
  const tt = mk('text', {x: x0 + 6, y: sy(1) - 8, class: 't', 'font-style': 'italic'}, g);
  tt.textContent = 'T';
  
  
  const pt = mk('text', {x: pX, y: sy(-1) + 58, class: 't', 'font-style': 'italic'}, g);
  pt.textContent = 'P';
  
  
  P.forEach((p, i) => {
    const x = sx(p), y = sy(T[i]);
    const d = mk('polygon', {points: x+','+(y-7.5)+' '+(x+7.5)+','+y+' '+x+','+(y+7.5)+' '+(x-7.5)+','+y, fill: '#41c4d0', stroke: '#27939c', 'stroke-width': 1}, g);
    
    
  });
  const ln = mk('line', {x1: x0, y1: sy(0), x2: xEnd, y2: sy(lineEndT), stroke: '#111', 'stroke-width': 3}, g);
  
  
  const ob = mk('text', {x: lblX, y: oblY, 'text-anchor': 'middle', class: 't'}, g);
  ob.textContent = 'Oblate';
  
  
  const pr = mk('text', {x: lblX, y: proY, 'text-anchor': 'middle', class: 't'}, g);
  pr.textContent = 'Prolate';
  
  
}
drawPlot('plotB', 'plot-b', 513, 8000, 1.055, 242, 122, bP, bT, bTicksMajor, bTicksMinor, 0.02, 852, 218, 277, 988);
drawPlot('plotE', 'plot-e', 1553, 10925, 1.040, 258, 121, ePv, eTv, eTicksMajor, eTicksMinor, 0.02, 1933, 236, 290, 2003);
</script>
</body></html>
